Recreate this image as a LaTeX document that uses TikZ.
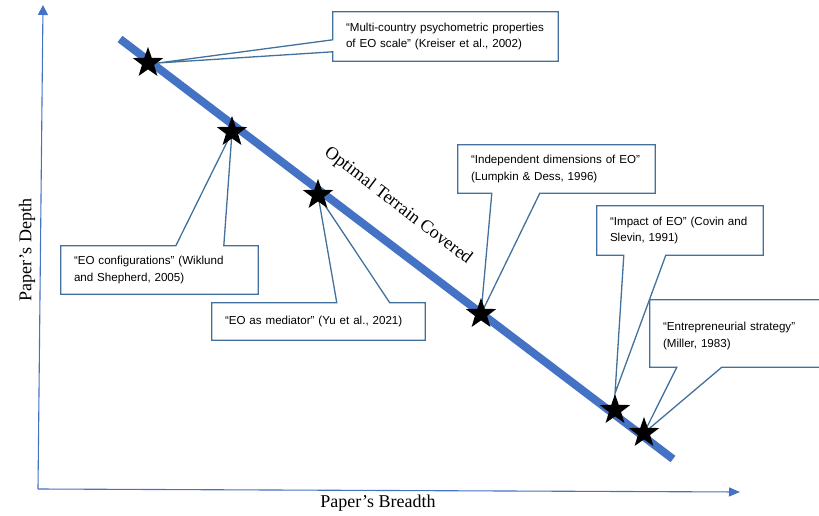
\documentclass[tikz,border=0pt]{standalone}
\usepackage{fontspec}
\setmainfont{Liberation Serif}
\newfontfamily\calloutfont{Liberation Sans}
\usepackage{tikz}
\usetikzlibrary{arrows.meta,shapes.geometric}
\definecolor{lineblue}{RGB}{68,114,196}
\definecolor{boxblue}{RGB}{65,113,156}
\tikzstyle{starnode}=[star,star points=5,star point ratio=2.5,fill=black,minimum size=32pt,inner sep=0pt]
\tikzstyle{calloutbox}=[fill=white,inner xsep=13pt,inner ysep=0pt,align=left,font=\calloutfont\fontsize{11.6}{16.7}\selectfont]
\tikzstyle{callline}=[draw=boxblue,line width=1.3pt,line join=miter]
\tikzstyle{axisline}=[draw=lineblue,line width=1.1pt]
\tikzstyle{axislabel}=[inner sep=0pt,font=\fontsize{18}{21}\selectfont]
\pgfdeclarelayer{bg}
\pgfsetlayers{bg,main}

\begin{document}
\begin{tikzpicture}[x=1pt,y=-1pt]
  \useasboundingbox (0,0) rectangle (819,516);
  % stars along the terrain line
  \node[starnode] (s1) at (148,63) {};
  \node[starnode] (s2) at (232,132) {};
  \node[starnode] (s3) at (318,195) {};
  \node[starnode] (s4) at (481,314) {};
  \node[starnode] (s5) at (615,410) {};
  \node[starnode] (s6) at (644,433) {};
  \begin{pgfonlayer}{bg}
    % axes
    \coordinate (o) at (38,489);
    \coordinate (ytop) at (43,5);
    \coordinate (xend) at (740,492);
    \draw[axisline,-{Triangle[length=10pt,width=10pt]}] (o) -- (ytop);
    \draw[axisline,-{Triangle[length=11pt,width=9pt]}] (o) -- (xend);
    \node[axislabel,rotate=90] (depth) at (27,250) {Paper’s Depth};
    \node[axislabel] (breadth) at (378,503) {Paper’s Breadth};
    % terrain line
    \coordinate (t1) at (120,39);
    \coordinate (t2) at (673,459);
    \draw[lineblue,line width=8pt] (t1) -- (t2);
    \node[axislabel,rotate=-37.5] (terrain) at (398,206) {Optimal Terrain Covered};
    % callouts
    \node[calloutbox,text width=199,minimum height=49] (c1) at (445.5,36.5)
      {“Multi-country psychometric properties\\of EO scale” (Kreiser et al., 2002)};
    \draw[callline] (c1.north west) -- (c1.north east) -- (c1.south east) -- (c1.south west)
      -- ([yshift=-40pt]c1.north west) -- ([xshift=10pt]s1.center) -- ([yshift=-28pt]c1.north west) -- cycle;
    \node[calloutbox,text width=171,minimum height=48] (c2) at (159.5,270)
      {“EO configurations” (Wiklund\\and Shepherd, 2005)};
    \draw[callline] (c2.north west) -- ([xshift=115pt]c2.north west) -- (s2.center)
      -- ([xshift=163pt]c2.north west) -- (c2.north east) -- (c2.south east) -- (c2.south west) -- cycle;
    \node[calloutbox,text width=187,minimum height=37] (c3) at (318.5,321.5)
      {“EO as mediator” (Yu et al., 2021)};
    \draw[callline] (c3.north west) -- ([xshift=125pt]c3.north west) -- (s3.center)
      -- ([xshift=178pt]c3.north west) -- (c3.north east) -- (c3.south east) -- (c3.south west) -- cycle;
    \node[calloutbox,text width=171,minimum height=48] (c4) at (556.5,169)
      {“Independent dimensions of EO”\\(Lumpkin \& Dess, 1996)};
    \draw[callline] (c4.north west) -- (c4.north east) -- (c4.south east) -- ([xshift=82pt]c4.south west)
      -- (s4.center) -- ([xshift=34pt]c4.south west) -- (c4.south west) -- cycle;
    \node[calloutbox,text width=140,minimum height=49] (c5) at (680,230.5)
      {“Impact of EO” (Covin and\\Slevin, 1991)};
    \draw[callline] (c5.north west) -- (c5.north east) -- (c5.south east) -- ([xshift=69pt]c5.south west)
      -- (s5.north) -- ([xshift=27pt]c5.south west) -- (c5.south west) -- cycle;
    \node[calloutbox,text width=156,minimum height=67,text depth=14.5pt] (c6) at (741,333.5)
      {“Entrepreneurial strategy”\\(Miller, 1983)};
    \draw[callline] (c6.north west) -- (c6.north east) -- (c6.south east) -- ([xshift=72pt]c6.south west)
      -- (s6.center) -- ([xshift=27pt]c6.south west) -- (c6.south west) -- cycle;
  \end{pgfonlayer}
\end{tikzpicture}
\end{document}
